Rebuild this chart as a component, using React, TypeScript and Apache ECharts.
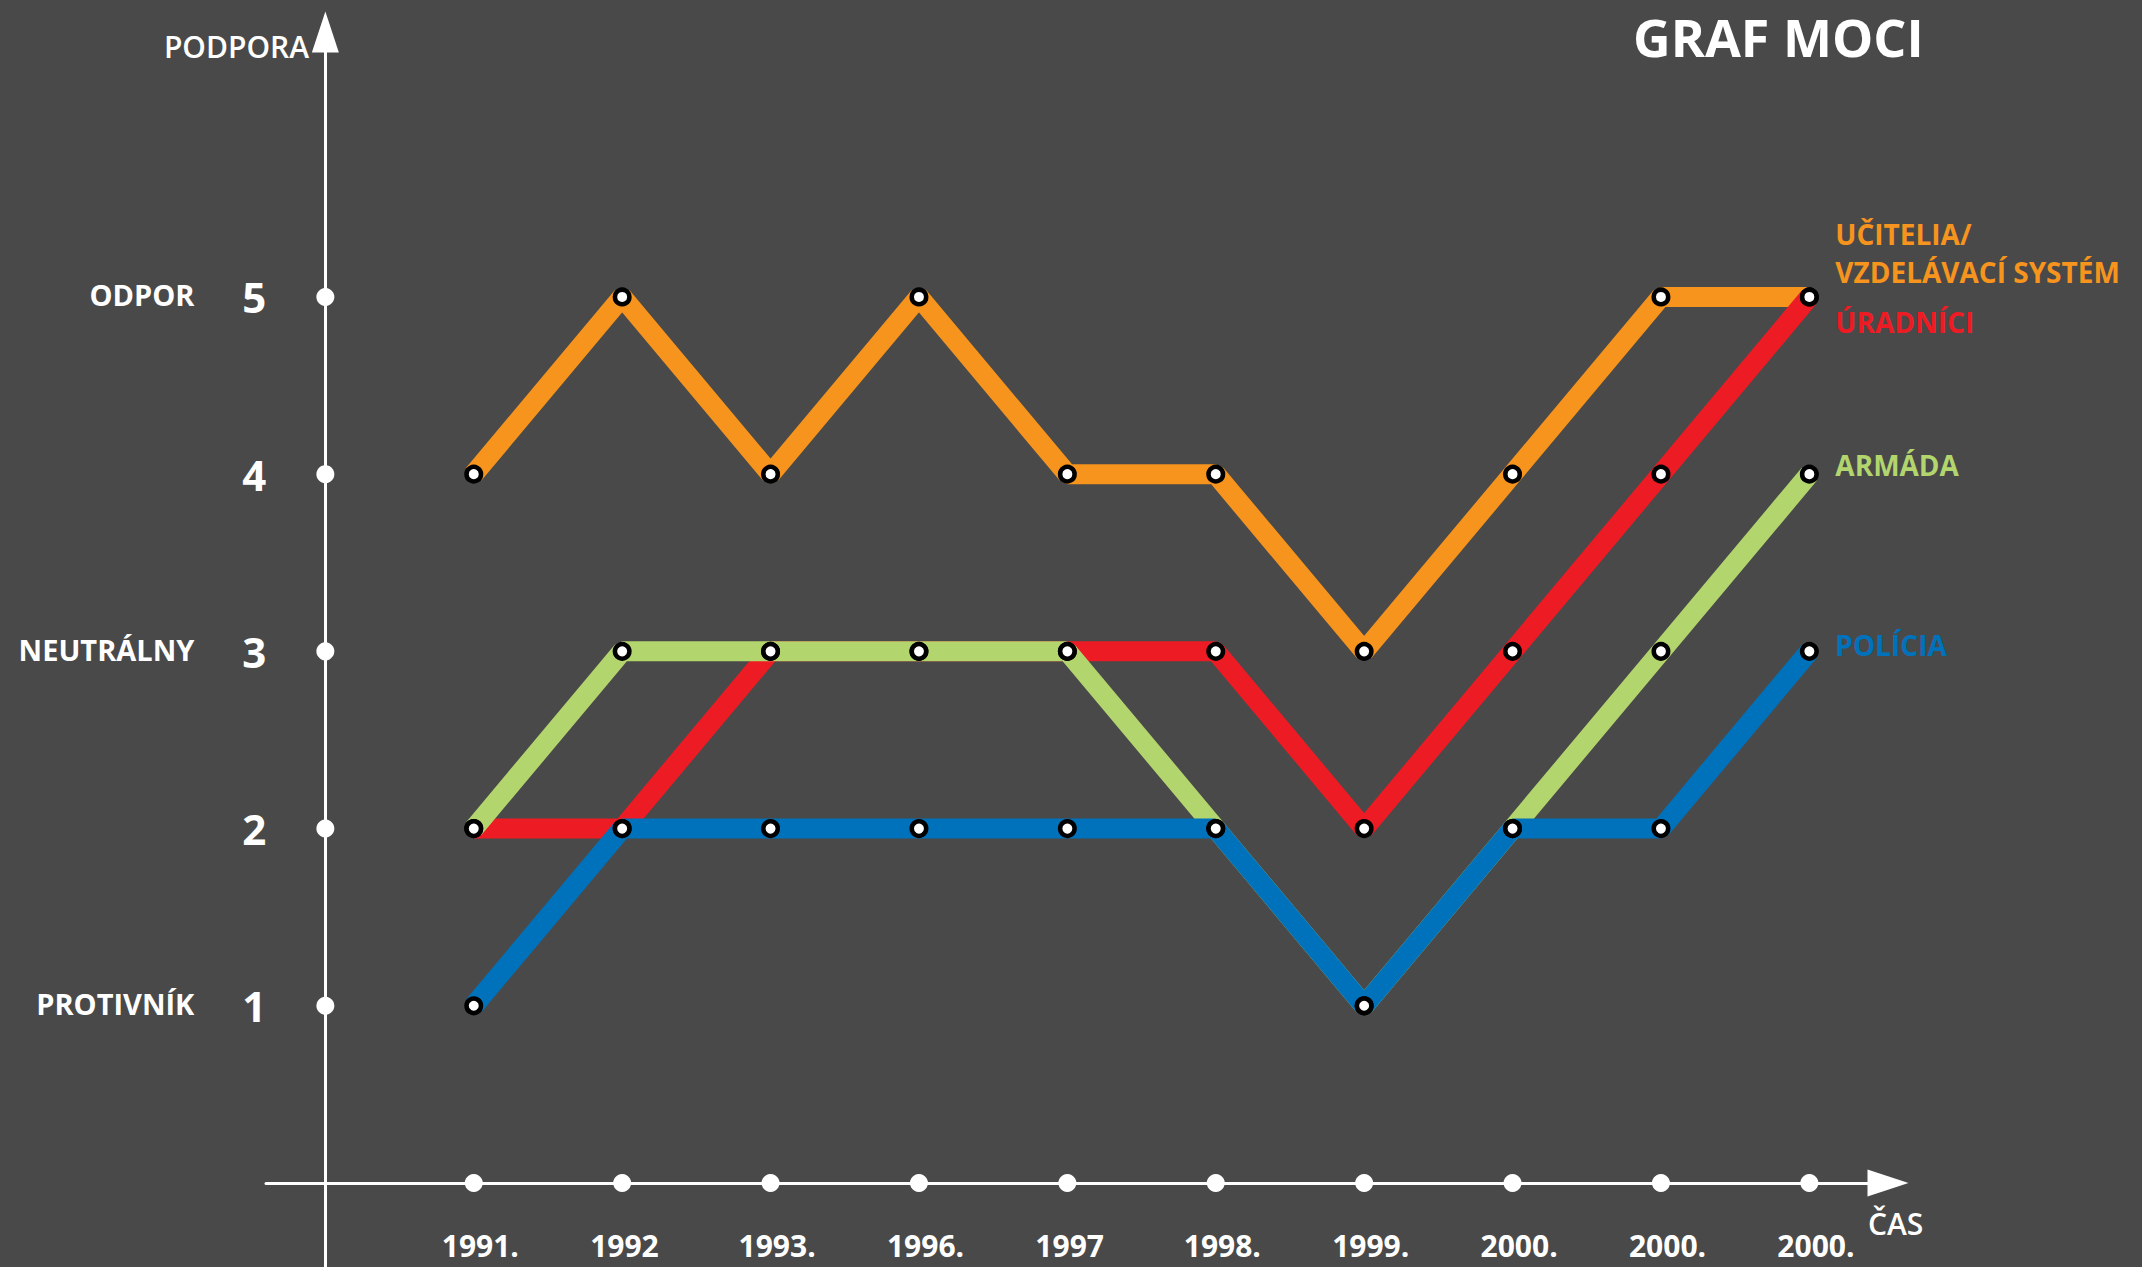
import React, { useEffect, useRef } from "react";
import * as echarts from "echarts";

const years = ["1991.", "1992", "1993.", "1996.", "1997", "1998.", "1999.", "2000.", "2000.", "2000."];
const ucitelia = [4, 5, 4, 5, 4, 4, 3, 4, 5, 5];
const uradnici = [2, 2, 3, 3, 3, 3, 2, 3, 4, 5];
const armada = [2, 3, 3, 3, 3, 2, 1, 2, 3, 4];
const policia = [1, 2, 2, 2, 2, 2, 1, 2, 2, 3];
const yTickValues = [1, 2, 3, 4, 5];
const yTickNames = ["PROTIVNÍK", "", "NEUTRÁLNY", "", "ODPOR"];

const FONT = "'Open Sans', 'Noto Sans', sans-serif";
const BG = "#494949";

function lineSeries(name: string, values: number[], color: string, label: string, offset: number[]) {
  return {
    name,
    type: "line",
    data: values.map((v, i) => [i + 1, v]),
    symbol: "circle",
    symbolSize: 14.5,
    showSymbol: true,
    itemStyle: { color: "#ffffff", borderColor: "#000000", borderWidth: 4.5, opacity: 1 },
    lineStyle: { color, width: 20, opacity: 1 },
    endLabel: {
      show: true,
      formatter: () => label,
      color,
      fontFamily: FONT,
      fontWeight: "bold",
      fontSize: 28,
      lineHeight: 38,
      distance: 0,
      offset,
      align: "left",
      verticalAlign: "middle",
    },
    emphasis: { disabled: true },
  };
}

export default function App() {
  const ref = useRef<HTMLDivElement>(null);
  useEffect(() => {
    if (!ref.current) return;
    const chart = echarts.init(ref.current, null, { renderer: "svg" });
    const axisLine = {
      show: true,
      onZero: true,
      lineStyle: { color: "#ffffff", width: 3 },
      symbol: ["none", "triangle"],
      symbolSize: [27, 41],
    };
    chart.setOption({
      animation: false,
      backgroundColor: BG,
      grid: { left: 266, right: 254, top: 32, bottom: 0, containLabel: false },
      xAxis: {
        type: "value",
        min: -0.4,
        max: 10.53,
        axisLine,
        axisTick: { show: false },
        axisLabel: { show: false },
        splitLine: { show: false },
      },
      yAxis: {
        type: "value",
        min: -0.474,
        max: 6.495,
        axisLine,
        axisTick: { show: false },
        axisLabel: { show: false },
        splitLine: { show: false },
      },
      graphic: [
        {
          type: "text",
          x: 1633,
          y: 36,
          style: {
            text: "GRAF MOCI",
            fill: "#ffffff",
            font: `bold 52px ${FONT}`,
            textAlign: "left",
            textVerticalAlign: "middle",
          },
        },
        {
          type: "text",
          x: 309,
          y: 46,
          style: { text: "PODPORA", fill: "#ffffff", font: `600 30px ${FONT}`, textAlign: "right", textVerticalAlign: "middle" },
        },
        {
          type: "text",
          x: 1868,
          y: 1223,
          style: { text: "ČAS", fill: "#ffffff", font: `600 30px ${FONT}`, textAlign: "left", textVerticalAlign: "middle" },
        },
      ],
      series: [
        {
          name: "xTicks",
          type: "scatter",
          data: years.map((_, i) => [i + 1, 0]),
          symbol: "circle",
          symbolSize: 18,
          itemStyle: { color: "#ffffff", opacity: 1 },
          label: {
            show: true,
            position: "inside",
            align: "left",
            verticalAlign: "middle",
            offset: [-32, 62],
            formatter: (p: any) => years[p.dataIndex],
            color: "#ffffff",
            fontFamily: FONT,
            fontWeight: "bold",
            fontSize: 30,
            lineHeight: 30,
            opacity: 1,
          },
          emphasis: { disabled: true },
          silent: true,
        },
        {
          name: "yTicks",
          type: "scatter",
          data: yTickValues.map((v) => [0, v]),
          symbol: "circle",
          symbolSize: 18,
          itemStyle: { color: "#ffffff", opacity: 1 },
          label: {
            show: true,
            position: "inside",
            align: "center",
            verticalAlign: "middle",
            offset: [-71, 0],
            formatter: (p: any) => String(yTickValues[p.dataIndex]),
            color: "#ffffff",
            fontFamily: FONT,
            fontWeight: "bold",
            fontSize: 42,
            opacity: 1,
          },
          emphasis: { disabled: true },
          silent: true,
        },
        {
          name: "yNames",
          type: "scatter",
          data: yTickValues.map((v) => [0, v]),
          symbol: "circle",
          symbolSize: 1,
          itemStyle: { color: "rgba(0,0,0,0)", opacity: 1 },
          label: {
            show: true,
            position: "inside",
            align: "right",
            verticalAlign: "middle",
            offset: [-131, -2],
            formatter: (p: any) => yTickNames[p.dataIndex],
            color: "#ffffff",
            fontFamily: FONT,
            fontWeight: "bold",
            fontSize: 29,
            opacity: 1,
          },
          emphasis: { disabled: true },
          silent: true,
        },
        lineSeries("UČITELIA/VZDELÁVACÍ SYSTÉM", ucitelia, "#F7941D", "UČITELIA/\nVZDELÁVACÍ SYSTÉM", [26, -44]),
        lineSeries("ÚRADNÍCI", uradnici, "#ED1C24", "ÚRADNÍCI", [26, 25]),
        lineSeries("ARMÁDA", armada, "#B2D56E", "ARMÁDA", [26, -9]),
        lineSeries("POLÍCIA", policia, "#0072BC", "POLÍCIA", [26, -6]),
      ],
    });
    return () => chart.dispose();
  }, []);
  return (
    <div
      ref={ref}
      style={{ position: "fixed", left: 0, top: 0, width: 2142, height: 1267, background: BG }}
    />
  );
}
